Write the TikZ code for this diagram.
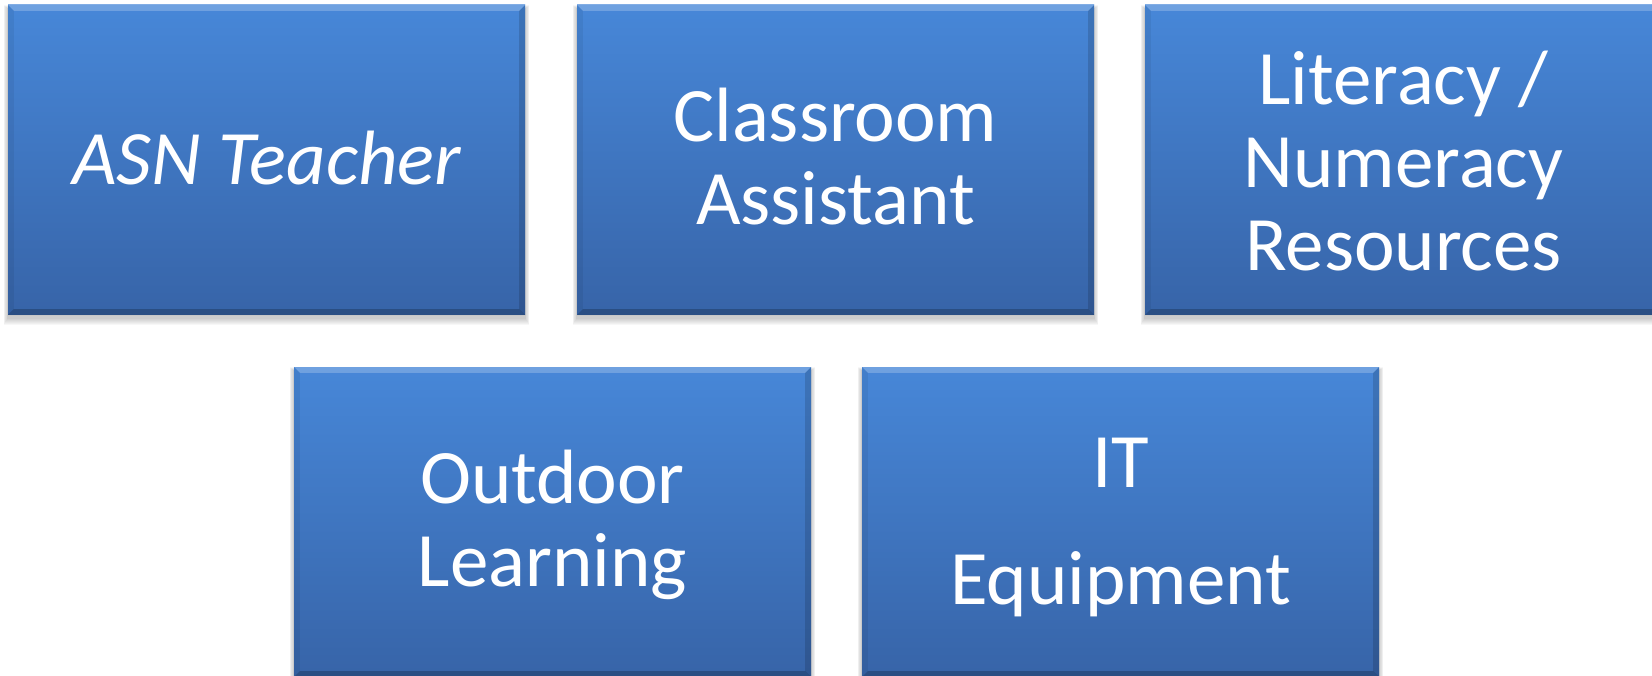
\documentclass[tikz,border=0pt]{standalone}
\usepackage{fontspec}
\setmainfont{Carlito}
\usetikzlibrary{calc,backgrounds}
\definecolor{paneltop}{HTML}{4787D8}
\definecolor{panelbot}{HTML}{3764A8}
\tikzset{
  panel/.style={rectangle, inner sep=0pt, minimum width=517pt, minimum height=310pt,
    top color=paneltop, bottom color=panelbot, draw=none},
  caption/.style={text=white, align=center, inner sep=0pt,
    font=\fontsize{77}{83}\selectfont},
}
\begin{document}
\begin{tikzpicture}[x=1pt,y=-1pt]
\useasboundingbox (0,0) rectangle (1652,676);
\clip (0,0) rectangle (1652,676);

% panels
\node[panel] (b1) at (266.5,160) {};
\node[panel] (b2) at (835.5,160) {};
\node[panel] (b3) at (1403.5,160) {};
\node[panel] (b4) at (552.5,522) {};
\node[panel] (b5) at (1120.5,522) {};

% soft drop shadows and bevelled edges
\foreach \b in {b1,b2,b3,b4,b5} {
  \begin{scope}[on background layer]
    \foreach \g in {1,...,7}
      \fill[black, opacity=0.03]
        ($(\b.north west)+(-0.6*\g,4-0.5*\g)$) rectangle ($(\b.south east)+(0.6*\g,\g+3)$);
  \end{scope}
  \fill[white, opacity=0.22] (\b.north west) -- (\b.north east)
    -- ($(\b.north east)+(-6,6)$) -- ($(\b.north west)+(6,6)$) -- cycle;
  \fill[black, opacity=0.22] (\b.south west) -- (\b.south east)
    -- ($(\b.south east)+(-6,-6)$) -- ($(\b.south west)+(6,-6)$) -- cycle;
  \fill[black, opacity=0.06] (\b.north west) -- (\b.south west)
    -- ($(\b.south west)+(6,-6)$) -- ($(\b.north west)+(6,6)$) -- cycle;
  \fill[black, opacity=0.14] (\b.north east) -- (\b.south east)
    -- ($(\b.south east)+(-6,-6)$) -- ($(\b.north east)+(-6,6)$) -- cycle;
  \draw[white, opacity=0.3, line width=1.2pt] (\b.north west) -- (\b.north east);
}

% captions
\node[caption, font=\fontsize{77}{83}\selectfont\itshape] (t1) at (266.5,158) {ASN Teacher};
\node[caption] (t2) at (835.5,157) {Classroom\\Assistant};
\node[caption] (t3) at (1403.5,161) {Literacy /\\Numeracy\\Resources};
\node[caption] (t4) at (552.5,525) {Outdoor\\Learning};
\node[caption] (t5) at (1120.5,527) {IT\\[34pt]Equipment};
\end{tikzpicture}
\end{document}
